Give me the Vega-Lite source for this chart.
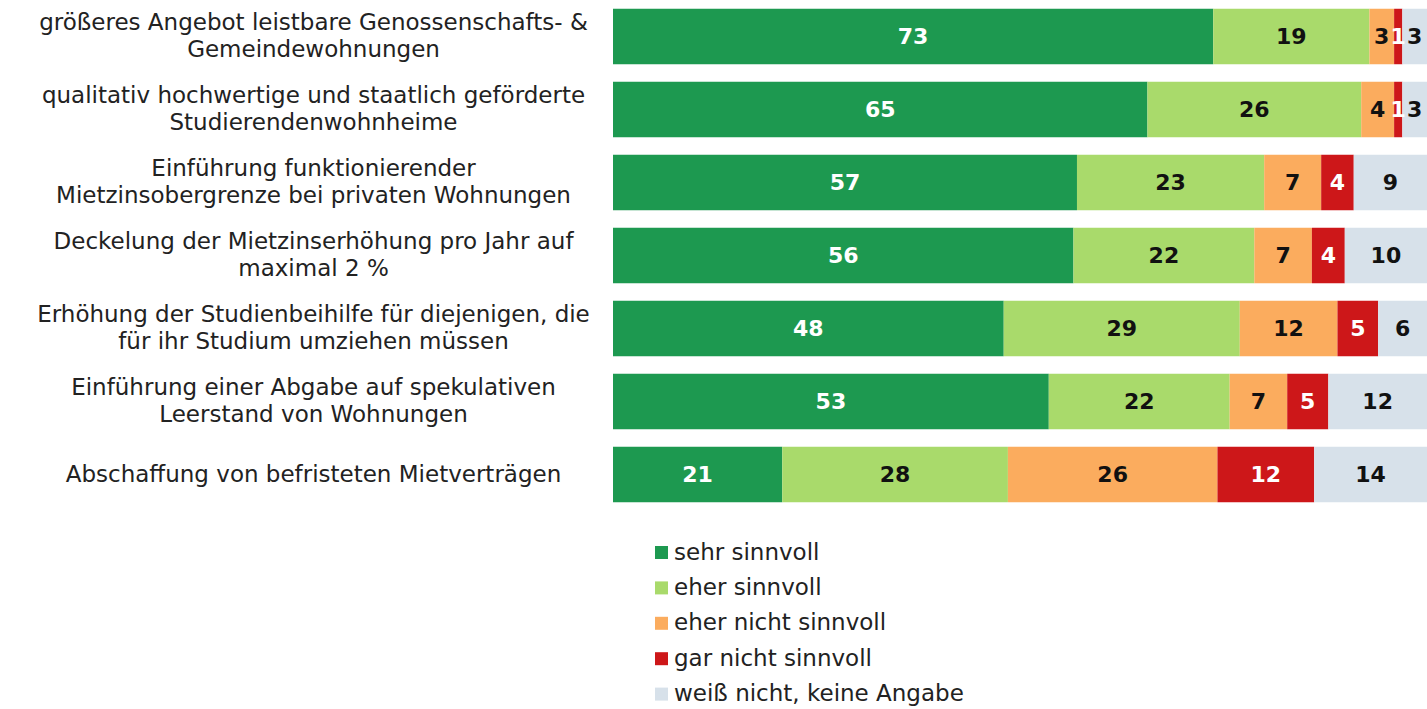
{
  "$schema": "https://vega.github.io/schema/vega-lite/v6.json",
  "width": 814,
  "height": 511,
  "autosize": {"type": "none"},
  "padding": {"left": 613, "top": 0, "right": 0, "bottom": 198},
  "background": "white",
  "config": {"view": {"stroke": null}, "font": "DejaVu Sans"},
  "data": {"values": [
    {"q": "größeres Angebot leistbare Genossenschafts- &|Gemeindewohnungen", "cat": "sehr sinnvoll", "o": 1, "v": 73},
    {"q": "größeres Angebot leistbare Genossenschafts- &|Gemeindewohnungen", "cat": "eher sinnvoll", "o": 2, "v": 19},
    {"q": "größeres Angebot leistbare Genossenschafts- &|Gemeindewohnungen", "cat": "eher nicht sinnvoll", "o": 3, "v": 3},
    {"q": "größeres Angebot leistbare Genossenschafts- &|Gemeindewohnungen", "cat": "gar nicht sinnvoll", "o": 4, "v": 1},
    {"q": "größeres Angebot leistbare Genossenschafts- &|Gemeindewohnungen", "cat": "weiß nicht, keine Angabe", "o": 5, "v": 3},
    {"q": "qualitativ hochwertige und staatlich geförderte|Studierendenwohnheime", "cat": "sehr sinnvoll", "o": 1, "v": 65},
    {"q": "qualitativ hochwertige und staatlich geförderte|Studierendenwohnheime", "cat": "eher sinnvoll", "o": 2, "v": 26},
    {"q": "qualitativ hochwertige und staatlich geförderte|Studierendenwohnheime", "cat": "eher nicht sinnvoll", "o": 3, "v": 4},
    {"q": "qualitativ hochwertige und staatlich geförderte|Studierendenwohnheime", "cat": "gar nicht sinnvoll", "o": 4, "v": 1},
    {"q": "qualitativ hochwertige und staatlich geförderte|Studierendenwohnheime", "cat": "weiß nicht, keine Angabe", "o": 5, "v": 3},
    {"q": "Einführung  funktionierender|Mietzinsobergrenze bei privaten Wohnungen", "cat": "sehr sinnvoll", "o": 1, "v": 57},
    {"q": "Einführung  funktionierender|Mietzinsobergrenze bei privaten Wohnungen", "cat": "eher sinnvoll", "o": 2, "v": 23},
    {"q": "Einführung  funktionierender|Mietzinsobergrenze bei privaten Wohnungen", "cat": "eher nicht sinnvoll", "o": 3, "v": 7},
    {"q": "Einführung  funktionierender|Mietzinsobergrenze bei privaten Wohnungen", "cat": "gar nicht sinnvoll", "o": 4, "v": 4},
    {"q": "Einführung  funktionierender|Mietzinsobergrenze bei privaten Wohnungen", "cat": "weiß nicht, keine Angabe", "o": 5, "v": 9},
    {"q": "Deckelung der Mietzinserhöhung pro Jahr auf|maximal 2 %", "cat": "sehr sinnvoll", "o": 1, "v": 56},
    {"q": "Deckelung der Mietzinserhöhung pro Jahr auf|maximal 2 %", "cat": "eher sinnvoll", "o": 2, "v": 22},
    {"q": "Deckelung der Mietzinserhöhung pro Jahr auf|maximal 2 %", "cat": "eher nicht sinnvoll", "o": 3, "v": 7},
    {"q": "Deckelung der Mietzinserhöhung pro Jahr auf|maximal 2 %", "cat": "gar nicht sinnvoll", "o": 4, "v": 4},
    {"q": "Deckelung der Mietzinserhöhung pro Jahr auf|maximal 2 %", "cat": "weiß nicht, keine Angabe", "o": 5, "v": 10},
    {"q": "Erhöhung der Studienbeihilfe für diejenigen, die|für ihr Studium umziehen müssen", "cat": "sehr sinnvoll", "o": 1, "v": 48},
    {"q": "Erhöhung der Studienbeihilfe für diejenigen, die|für ihr Studium umziehen müssen", "cat": "eher sinnvoll", "o": 2, "v": 29},
    {"q": "Erhöhung der Studienbeihilfe für diejenigen, die|für ihr Studium umziehen müssen", "cat": "eher nicht sinnvoll", "o": 3, "v": 12},
    {"q": "Erhöhung der Studienbeihilfe für diejenigen, die|für ihr Studium umziehen müssen", "cat": "gar nicht sinnvoll", "o": 4, "v": 5},
    {"q": "Erhöhung der Studienbeihilfe für diejenigen, die|für ihr Studium umziehen müssen", "cat": "weiß nicht, keine Angabe", "o": 5, "v": 6},
    {"q": "Einführung einer Abgabe auf spekulativen|Leerstand von Wohnungen", "cat": "sehr sinnvoll", "o": 1, "v": 53},
    {"q": "Einführung einer Abgabe auf spekulativen|Leerstand von Wohnungen", "cat": "eher sinnvoll", "o": 2, "v": 22},
    {"q": "Einführung einer Abgabe auf spekulativen|Leerstand von Wohnungen", "cat": "eher nicht sinnvoll", "o": 3, "v": 7},
    {"q": "Einführung einer Abgabe auf spekulativen|Leerstand von Wohnungen", "cat": "gar nicht sinnvoll", "o": 4, "v": 5},
    {"q": "Einführung einer Abgabe auf spekulativen|Leerstand von Wohnungen", "cat": "weiß nicht, keine Angabe", "o": 5, "v": 12},
    {"q": "Abschaffung von befristeten Mietverträgen", "cat": "sehr sinnvoll", "o": 1, "v": 21},
    {"q": "Abschaffung von befristeten Mietverträgen", "cat": "eher sinnvoll", "o": 2, "v": 28},
    {"q": "Abschaffung von befristeten Mietverträgen", "cat": "eher nicht sinnvoll", "o": 3, "v": 26},
    {"q": "Abschaffung von befristeten Mietverträgen", "cat": "gar nicht sinnvoll", "o": 4, "v": 12},
    {"q": "Abschaffung von befristeten Mietverträgen", "cat": "weiß nicht, keine Angabe", "o": 5, "v": 14}
  ]},
  "transform": [
    {"stack": "v", "groupby": ["q"], "sort": [{"field": "o", "order": "ascending"}], "offset": "normalize", "as": ["x0", "x1"]},
    {"calculate": "(datum.x0 + datum.x1) / 2", "as": "mid"}
  ],
  "encoding": {
    "y": {
      "field": "q", "type": "nominal", "sort": null, "title": null,
      "scale": {"paddingInner": 0.24, "paddingOuter": 0.12},
      "axis": {
        "domain": false, "ticks": false, "labelAlign": "center", "labelPadding": 300,
        "labelExpr": "split(datum.label, '|')", "labelFontSize": 23, "labelLineHeight": 27,
        "labelOffset": {"condition": {"test": "indexof(datum.label, '|') >= 0", "value": -13.5}, "value": 0},
        "labelColor": "#222222", "labelLimit": 700, "labelFont": "DejaVu Sans"
      }
    }
  },
  "layer": [
    {
      "mark": {"type": "bar"},
      "encoding": {
        "x": {"field": "x0", "type": "quantitative", "scale": {"domain": [0, 1], "nice": false, "zero": false}, "axis": null},
        "x2": {"field": "x1"},
        "color": {
          "field": "cat", "type": "nominal", "title": null,
          "sort": ["sehr sinnvoll", "eher sinnvoll", "eher nicht sinnvoll", "gar nicht sinnvoll", "weiß nicht, keine Angabe"],
          "scale": {
            "domain": ["sehr sinnvoll", "eher sinnvoll", "eher nicht sinnvoll", "gar nicht sinnvoll", "weiß nicht, keine Angabe"],
            "range": ["#1d9950", "#a9da6b", "#fbac5e", "#cd1719", "#d7e1ea"]
          },
          "legend": {
            "orient": "none", "legendX": 37, "legendY": 541, "direction": "vertical",
            "symbolType": "square", "symbolSize": 169, "symbolStrokeWidth": 0,
            "labelFontSize": 23, "labelFont": "DejaVu Sans", "labelColor": "#222222",
            "labelOffset": 1, "rowPadding": 11.4, "padding": 0, "labelLimit": 500
          }
        }
      }
    },
    {
      "mark": {"type": "text", "fontSize": 22, "fontWeight": "bold", "font": "DejaVu Sans", "baseline": "middle"},
      "encoding": {
        "x": {"field": "mid", "type": "quantitative"},
        "text": {"field": "v", "type": "quantitative"},
        "color": {
          "condition": {"test": "datum.cat === 'sehr sinnvoll' || datum.cat === 'gar nicht sinnvoll'", "value": "white"},
          "value": "#111111"
        }
      }
    }
  ]
}
